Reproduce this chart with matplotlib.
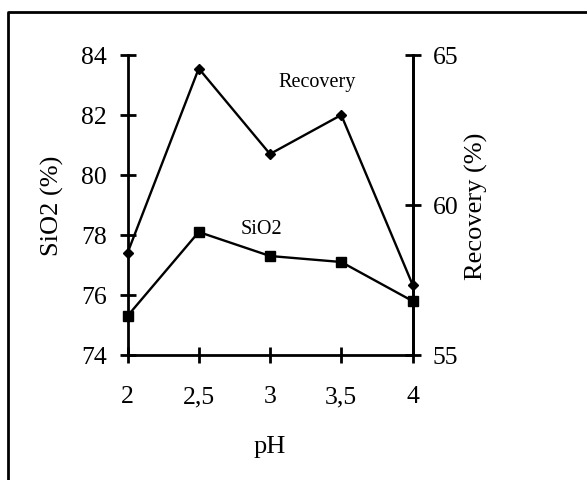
import matplotlib
matplotlib.use("Agg")
import matplotlib.pyplot as plt
from matplotlib.lines import Line2D

# values
ph = [2, 2.5, 3, 3.5, 4]
ph_labels = ["2", "2,5", "3", "3,5", "4"]
sio2 = [75.3, 78.1, 77.3, 77.1, 75.8]
recovery = [58.4, 64.55, 61.7, 63.0, 57.35]
sio2_ticks = [74, 76, 78, 80, 82, 84]
recovery_ticks = [55, 60, 65]

plt.rcParams['font.family'] = ['Liberation Serif', 'DejaVu Serif']

fig = plt.figure(figsize=(5.87, 4.81), dpi=100)
ax = fig.add_axes([127.5 / 587, 1 - 356 / 481, 285 / 587, 300 / 481])
ax2 = ax.twinx()

# SiO2 on the left axis, squares
ax.plot(ph, sio2, color='black', lw=1.7, marker='s', ms=6.5, clip_on=False, zorder=3)
# recovery on the right axis, diamonds
ax2.plot(ph, recovery, color='black', lw=1.7, marker='D', ms=5, clip_on=False, zorder=3)

ax.set_xlim(2, 4)
ax.set_ylim(74, 84)
ax2.set_ylim(55, 65)
ax.set_xticks(ph)
ax.set_xticklabels(ph_labels)
ax.set_yticks(sio2_ticks)
ax2.set_yticks(recovery_ticks)

for a in (ax, ax2):
    a.spines['top'].set_visible(False)
    for s in a.spines.values():
        s.set_linewidth(2)
    a.tick_params(direction='inout', length=11.5, width=2, labelsize=18.5, pad=9)
ax.tick_params(axis='x', pad=16)
ax2.spines['left'].set_visible(False)
ax2.spines['bottom'].set_visible(False)

ax.set_xlabel("pH", fontsize=19, va='center')
ax.xaxis.set_label_coords(0.5, -0.303)
ax.set_ylabel("SiO2 (%)", fontsize=19, va='center')
ax.yaxis.set_label_coords(-0.265, 0.5)
ax2.set_ylabel("Recovery (%)", fontsize=19, va='center')
ax2.yaxis.set_label_coords(1.225, 0.5)

ax.text(3.33, 83.1, "Recovery", fontsize=14.5, ha='center', va='center')
ax.text(2.94, 78.2, "SiO2", fontsize=14.5, ha='center', va='center')

# frame around the picture, open at bottom and right
fig.add_artist(Line2D([8 / 587, 8 / 587, 1], [0, 1 - 12.5 / 481, 1 - 12.5 / 481],
                      color='black', lw=2, transform=fig.transFigure))

fig.savefig("out.png", dpi=100)
